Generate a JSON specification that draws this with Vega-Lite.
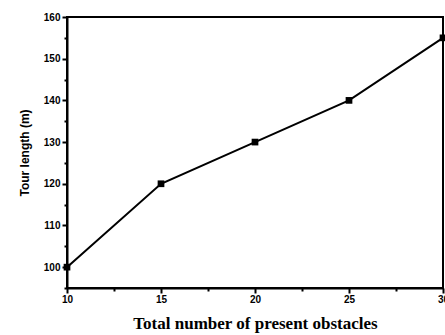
{
  "$schema": "https://vega.github.io/schema/vega-lite/v6.json",
  "autosize": "none",
  "width": 376,
  "height": 271,
  "padding": {"left": 67, "top": 17, "right": 2, "bottom": 47},
  "background": "white",
  "config": {
    "view": {"stroke": "black", "strokeWidth": 2},
    "axis": {
      "domainColor": "black",
      "domainWidth": 2,
      "tickColor": "black",
      "tickWidth": 2,
      "labelFont": "Liberation Sans",
      "labelFontWeight": "bold",
      "labelFontSize": 10,
      "labelColor": "black",
      "grid": false
    }
  },
  "data": {
    "values": [
      {"obstacles": 10, "length": 100},
      {"obstacles": 15, "length": 120},
      {"obstacles": 20, "length": 130},
      {"obstacles": 25, "length": 140},
      {"obstacles": 30, "length": 155}
    ]
  },
  "encoding": {
    "x": {
      "field": "obstacles",
      "type": "quantitative",
      "scale": {"domain": [10, 30], "nice": false},
      "axis": {
        "values": [10, 12.5, 15, 17.5, 20, 22.5, 25, 27.5, 30],
        "labelExpr": "datum.value % 5 === 0 ? datum.label : ''",
        "tickSize": {"condition": {"test": "datum.value % 5 === 0", "value": 5}, "value": 3},
        "labelPadding": 1,
        "labelFlush": false,
        "title": "Total number of present obstacles",
        "titleFont": "Liberation Serif",
        "titleFontWeight": "bold",
        "titleFontSize": 17,
        "titleColor": "black",
        "titlePadding": 11
      }
    },
    "y": {
      "field": "length",
      "type": "quantitative",
      "scale": {"domain": [95, 160], "nice": false, "zero": false},
      "axis": {
        "values": [95, 100, 105, 110, 115, 120, 125, 130, 135, 140, 145, 150, 155, 160],
        "labelExpr": "datum.value % 10 === 0 ? datum.label : ''",
        "tickSize": {"condition": {"test": "datum.value % 10 === 0", "value": 5}, "value": 3},
        "labelPadding": 2,
        "title": "Tour length (m)",
        "titleFont": "Liberation Sans",
        "titleFontWeight": "bold",
        "titleFontSize": 12,
        "titleColor": "black",
        "titlePadding": 12
      }
    }
  },
  "layer": [
    {"mark": {"type": "line", "color": "black", "strokeWidth": 2, "clip": false}},
    {"mark": {"type": "square", "color": "black", "filled": true, "opacity": 1, "size": 45, "clip": false}}
  ]
}
